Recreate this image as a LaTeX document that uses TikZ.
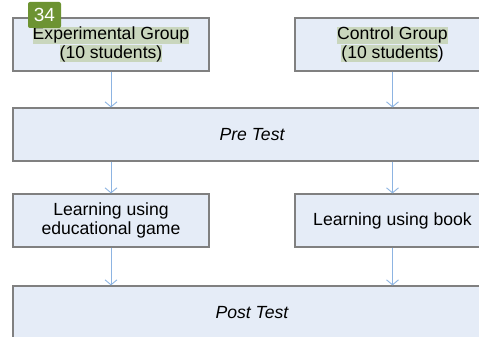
\documentclass[tikz,border=0pt]{standalone}
\usepackage{fontspec}
\setmainfont{Liberation Sans}
\usetikzlibrary{arrows.meta}
\definecolor{boxfill}{HTML}{E5ECF7}
\definecolor{boxdraw}{HTML}{808080}
\definecolor{arrowc}{HTML}{8DB4E2}
\definecolor{hlgreen}{HTML}{C9D6BD}
\definecolor{badge}{HTML}{6D9332}
\newcommand\hlt[1]{{\setlength\fboxsep{0pt}\colorbox{hlgreen}{\rule[-4pt]{0pt}{16.5pt}#1}}}
\begin{document}
\begin{tikzpicture}[x=1pt,y=-1pt,
  box/.style={draw=boxdraw, line width=1.2pt, fill=boxfill, minimum height=53pt,
    inner sep=0pt, align=center, font=\fontsize{17.6}{18.5}\selectfont},
  flow/.style={draw=arrowc, line width=0.9pt, -{Straight Barb[length=5pt,width=12pt]}},
  badgebox/.style={fill=badge, rounded corners=2pt, minimum width=33pt, minimum height=26pt,
    inner sep=0pt, text=white, font=\fontsize{19}{19}\selectfont}]
\useasboundingbox (0,0) rectangle (479,337);
\clip (0,0) rectangle (479,337);
\fill[white] (0,0) rectangle (479,337);
\node[box, minimum width=196pt] (exp) at (111,44.5) {\hlt{Experimental Group}\\\hlt{(10 students)}};
\node[box, minimum width=195pt] (ctl) at (392.5,44.5) {\hlt{Control Group}\\\hlt{(10 students}\kern-0.5pt)};
\node[box, minimum width=478pt] (pre) at (252,134.5) {\itshape Pre Test};
\node[box, minimum width=196pt] (game) at (111,220.5) {Learning using\\educational game};
\node[box, minimum width=195pt] (book) at (392.5,220.5) {Learning using book};
\node[box, minimum width=478pt] (post) at (252,312.5) {\itshape Post Test};
\node[badgebox] (badge) at (44.5,15) {34};
\draw[flow] (exp.south) -- (exp.south |- pre.north);
\draw[flow] (ctl.south) -- (ctl.south |- pre.north);
\draw[flow] (pre.south -| game.north) -- (game.north);
\draw[flow] (pre.south -| book.north) -- (book.north);
\draw[flow] (game.south) -- (game.south |- post.north);
\draw[flow] (book.south) -- (book.south |- post.north);
\end{tikzpicture}
\end{document}
